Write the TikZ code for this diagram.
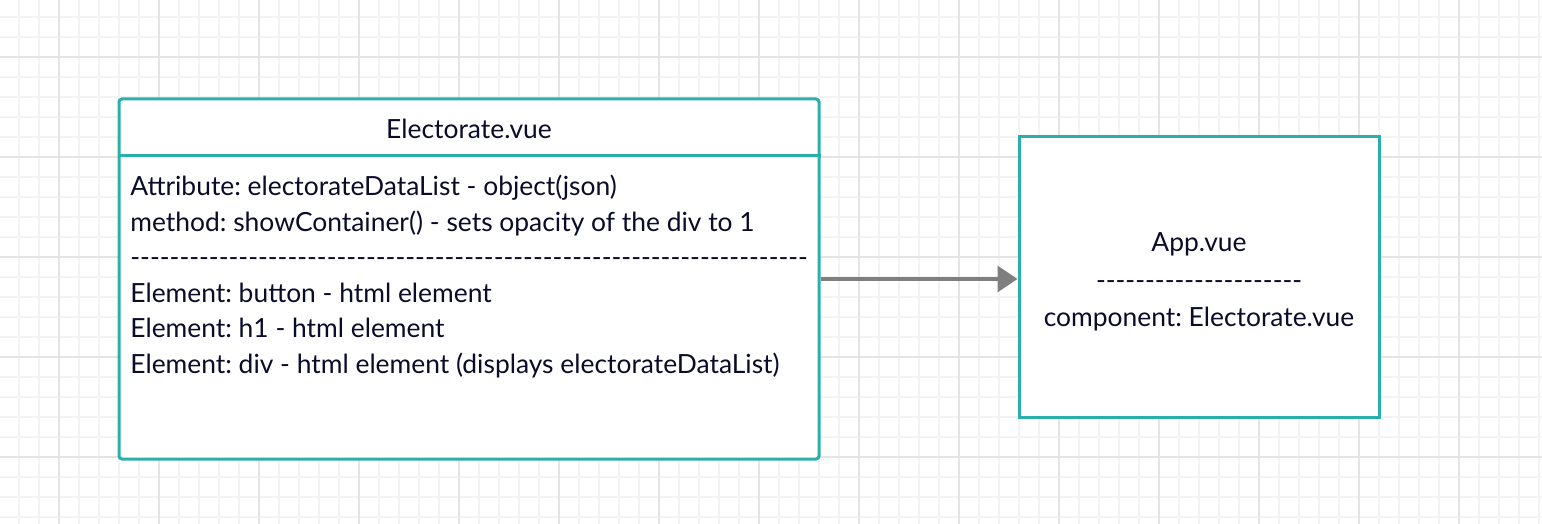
\documentclass[tikz,border=0pt]{standalone}
\usepackage{fontspec}
\setmainfont{Lato}
\usepackage{xcolor}
\usetikzlibrary{positioning,arrows.meta}

\definecolor{boxteal}{HTML}{2AAFAB}
\definecolor{arrowgray}{HTML}{7F7F7F}
\definecolor{gridminor}{HTML}{F3F3F3}
\definecolor{gridmajor}{HTML}{E4E4E4}
\definecolor{inkblue}{HTML}{0B0B2A}

\newcommand{\dashrow}[1]{\foreach \i in {1,...,#1}{-}}

\tikzset{
  classbox/.style={draw=boxteal,line width=1.5pt,fill=white,inner sep=0pt},
  label/.style={inner sep=0pt,text=inkblue,font=\fontsize{13.2}{17.75}\selectfont\frenchspacing},
  link/.style={draw=arrowgray,line width=1.6pt,-{Triangle[length=10pt,width=13pt]}}
}

\begin{document}
\begin{tikzpicture}[x=0.5pt,y=-0.5pt]
  \useasboundingbox (0,0) rectangle (1542,524);
  % grid
  \foreach \x in {19,39,...,1539} \draw[gridminor,line width=1pt] (\x,0) -- (\x,524);
  \foreach \y in {17,37,...,517} \draw[gridminor,line width=1pt] (0,\y) -- (1542,\y);
  \foreach \x in {59,159,...,1459} \draw[gridmajor,line width=1pt] (\x,0) -- (\x,524);
  \foreach \y in {57,157,...,457} \draw[gridmajor,line width=1pt] (0,\y) -- (1542,\y);

  % Electorate.vue
  \node[classbox,rounded corners=1.5pt,minimum width=350pt,minimum height=180pt] (electorate) at (469,279) {};
  \coordinate (sepwest) at (119,156);
  \draw[boxteal,line width=1.5pt] (sepwest) -- (sepwest -| electorate.east);
  \node[label] (electoratetitle) at (469,129) {Electorate.vue};
  \node[label,anchor=north west,align=left] (electoratebody) at (130,175) {%
    Attribute: electorateDataList - object(json)\\
    method: showContainer() - sets opacity of the div to 1\\
    \dashrow{69}\\
    Element: button - html element\\
    Element: h1 - html element\\
    Element: div - html element (displays electorateDataList)};

  % App.vue
  \node[classbox,minimum width=180pt,minimum height=140pt] (app) at (1199,277) {};
  \node[label,align=center,font=\fontsize{13.2}{18.75}\selectfont\frenchspacing] (apptext) at (1199,282) {App.vue\\ \dashrow{21}\\ component: Electorate.vue};

  \draw[link] (electorate.east) -- (electorate.east -| app.west);
\end{tikzpicture}
\end{document}
